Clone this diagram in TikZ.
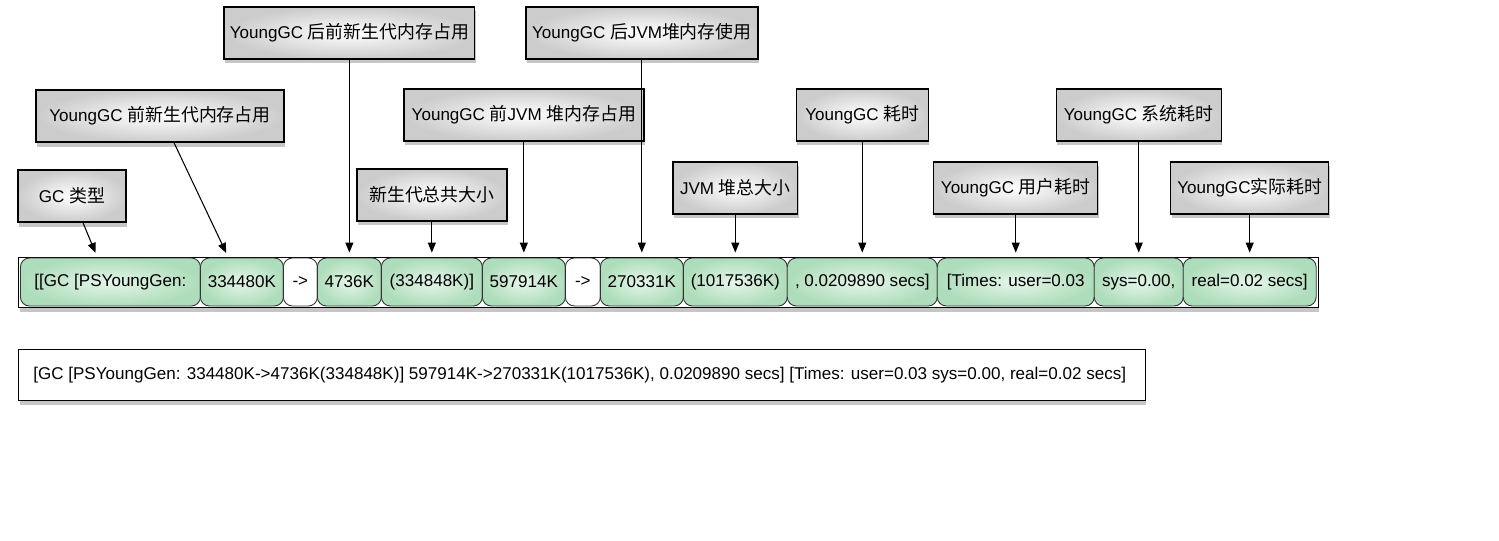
\documentclass[tikz,border=0pt]{standalone}
\usepackage{fontspec}
\setmainfont{Liberation Sans}
\newfontfamily\cjk{Noto Sans CJK SC}[Scale=1.05]
\usetikzlibrary{positioning,shadows,arrows.meta}
\newcommand{\zh}[1]{{\cjk #1}}
\definecolor{celltop}{HTML}{E6F6EA}
\definecolor{cellbot}{HTML}{AEDDBB}
\begin{document}
\begin{tikzpicture}[x=0.02cm,y=-0.02cm,font=\fontsize{9.7}{11}\selectfont]
\tikzstyle{strip} = [draw=black, fill=white, line width=0.7pt, drop shadow={shadow xshift=0.6pt, shadow yshift=-2.6pt, opacity=0.45}] % белая полоса под ячейками
\tikzstyle{cellbase} = [draw=black!80, line width=0.5pt, rounded corners=0.18cm, minimum height=0.96cm, inner sep=1pt] % общая ячейка
\tikzstyle{cell} = [cellbase, inner color=celltop, outer color=cellbot] % зелёная ячейка
\tikzstyle{arrowcell} = [cellbase, fill=white] % ячейка со стрелкой "->"
\tikzstyle{lbl} = [draw=black, line width=0.8pt, inner color=white, outer color=gray!40, minimum height=1.04cm, drop shadow={shadow xshift=0.6pt, shadow yshift=-2.6pt, opacity=0.45}] % подпись
\tikzstyle{arr} = [-{Triangle[length=0.2cm,width=0.16cm]}, line width=0.6pt, shorten >=0.1cm] % стрелка
\useasboundingbox (0,0) rectangle (1499,541);
% полоса из ячеек
\node[strip, anchor=north west, minimum width=26cm, minimum height=1cm] (strip) at (18,257) {};
\node[cell, anchor=west, minimum width=3.6cm] (c1) at (20,282) {[[GC [PSYoungGen:};
\node[cell, right=-0.5pt of c1, minimum width=1.66cm] (c2) {334480K};
\node[arrowcell, right=-0.5pt of c2, minimum width=0.68cm] (c3) {->};
\node[cell, right=-0.5pt of c3, minimum width=1.28cm] (c4) {4736K};
\node[cell, right=-0.5pt of c4, minimum width=2.02cm] (c5) {(334848K)]};
\node[cell, right=-0.5pt of c5, minimum width=1.66cm] (c6) {597914K};
\node[arrowcell, right=-0.5pt of c6, minimum width=0.70cm] (c7) {->};
\node[cell, right=-0.5pt of c7, minimum width=1.66cm] (c8) {270331K};
\node[cell, right=-0.5pt of c8, minimum width=2.08cm] (c9) {(1017536K)};
\node[cell, right=-0.5pt of c9, minimum width=3.00cm] (c10) {, 0.0209890 secs]};
\node[cell, right=-0.5pt of c10, minimum width=3.14cm] (c11) {[Times: user=0.03};
\node[cell, right=-0.5pt of c11, minimum width=1.78cm] (c12) {sys=0.00,};
\node[cell, right=-0.5pt of c12, minimum width=2.66cm] (c13) {real=0.02 secs]};
% подписи
\node[lbl, minimum width=2.16cm] (gctype) at (72,196) {GC \zh{类型}};
\node[lbl, minimum width=4.96cm] (youngpre) at (160,116) {YoungGC \zh{前新生代内存占用}};
\node[lbl, minimum width=4.96cm, above=3.96cm of c4] (youngpost) {YoungGC \zh{后前新生代内存占用}};
\node[lbl, minimum width=3.0cm, above=0.72cm of c5] (youngsize) {\zh{新生代总共大小}};
\node[lbl, minimum width=4.8cm, above=2.32cm of c6] (heappre) {YoungGC \zh{前}JVM \zh{堆内存占用}};
\node[lbl, minimum width=4.64cm, above=3.96cm of c8] (heappost) {YoungGC \zh{后}JVM\zh{堆内存使用}};
\node[lbl, minimum width=2.5cm, above=0.86cm of c9] (heapsize) {JVM \zh{堆总大小}};
\node[lbl, minimum width=2.64cm, above=2.32cm of c10] (gctime) {YoungGC \zh{耗时}};
\node[lbl, minimum width=3.28cm, above=0.86cm of c11] (usertime) {YoungGC \zh{用户耗时}};
\node[lbl, minimum width=3.3cm, above=2.32cm of c12] (systime) {YoungGC \zh{系统耗时}};
\node[lbl, minimum width=3.16cm, above=0.86cm of c13] (realtime) {YoungGC\zh{实际耗时}};
% стрелки
\draw[arr] ([xshift=0.22cm]gctype.south) -- ([xshift=-0.26cm]c1.north);
\draw[arr] ([xshift=0.28cm]youngpre.south) -- ([xshift=-0.27cm]c2.north);
\draw[arr] (youngpost) -- (c4);
\draw[arr] (youngsize) -- (c5);
\draw[arr] (heappre) -- (c6);
\draw[arr] (heappost) -- (c8);
\draw[arr] (heapsize) -- (c9);
\draw[arr] (gctime) -- (c10);
\draw[arr] (usertime) -- (c11);
\draw[arr] (systime) -- (c12);
\draw[arr] (realtime) -- (c13);
% исходная строка лога
\node[strip, anchor=north west, minimum width=22.54cm, minimum height=1.02cm] (logbox) at (18,349) {};
\node[anchor=west, inner sep=0pt, font=\fontsize{9.7}{11}\selectfont] (logline) at (33,375) {[GC [PSYoungGen: 334480K->4736K(334848K)] 597914K->270331K(1017536K), 0.0209890 secs] [Times: user=0.03 sys=0.00, real=0.02 secs]};
\end{tikzpicture}
\end{document}
